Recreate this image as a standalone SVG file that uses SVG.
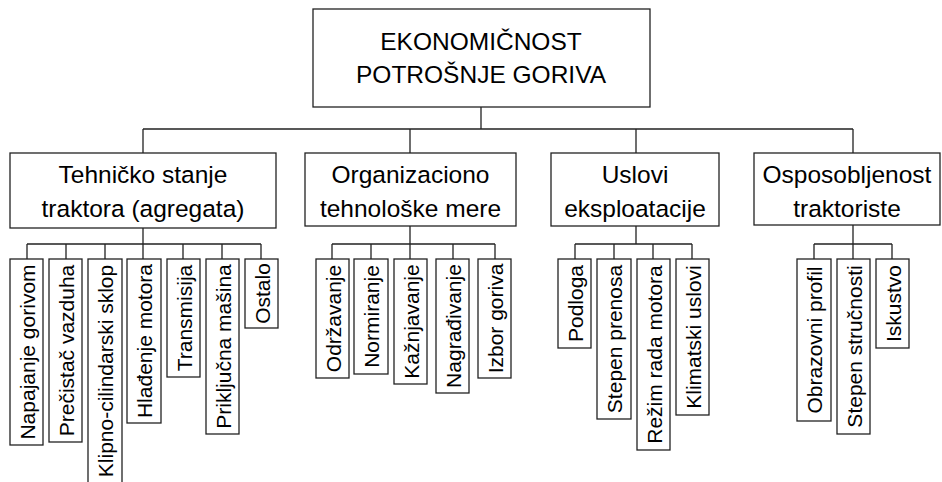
<svg xmlns="http://www.w3.org/2000/svg" width="942" height="482" viewBox="0 0 942 482">
<style>
.box{fill:#fff;stroke:#222;stroke-width:1.3}
.ln{fill:none;stroke:#222;stroke-width:1.3}
.t1{font-family:"Liberation Sans",Arial,sans-serif;font-size:24.5px;fill:#000;text-anchor:middle}
.t3{font-family:"Liberation Sans",Arial,sans-serif;font-size:21px;fill:#000;text-anchor:middle}
</style>
<rect width="942" height="482" fill="#fff"/>
<g id="connectors" class="ln">
<path d="M481 107V129M143 129H853M143 129V153M410 129V153M636 129V153M853 129V153"/>
<path d="M143 228V259M27 244H261M27 244V259M66 244V259M105 244V259M183 244V259M222 244V259M261 244V259"/>
<path d="M410 226V259M332 244H495M332 244V259M371 244V259M453 244V259M495 244V259"/>
<path d="M636 226V244M575 244H692M575 244V259M614 244V259M653 244V259M692 244V259"/>
<path d="M853 225V259M814 244H892M814 244V259M892 244V259"/>
</g>
<g id="root"><rect class="box" x="313" y="9" width="337" height="98"/><text class="t1" x="481" y="50">EKONOMIČNOST</text><text class="t1" x="481" y="83">POTROŠNJE GORIVA</text></g>
<g id="tehnicko"><rect class="box" x="10" y="153" width="266" height="75"/><text class="t1" x="143" y="183">Tehničko stanje</text><text class="t1" x="143" y="217">traktora (agregata)</text></g>
<g id="organizaciono"><rect class="box" x="305" y="153" width="211" height="73"/><text class="t1" x="410.5" y="183">Organizaciono</text><text class="t1" x="410.5" y="217">tehnološke mere</text></g>
<g id="uslovi"><rect class="box" x="551" y="153" width="168" height="73"/><text class="t1" x="635" y="183">Uslovi</text><text class="t1" x="635" y="217">eksploatacije</text></g>
<g id="osposobljenost"><rect class="box" x="754" y="153" width="186" height="72"/><text class="t1" x="847" y="183">Osposobljenost</text><text class="t1" x="847" y="217">traktoriste</text></g>
<g id="napajanje"><rect class="box" x="10" y="259" width="33" height="186"/><text class="t3" transform="translate(34.5 352) rotate(-90)">Napajanje gorivom</text></g>
<g id="precistac"><rect class="box" x="49" y="259" width="33" height="183"/><text class="t3" transform="translate(73.5 350.5) rotate(-90)">Prečistač vazduha</text></g>
<g id="klipno"><rect class="box" x="88" y="259" width="34" height="226"/><text class="t3" transform="translate(112.5 371) rotate(-90)">Klipno-cilindarski sklop</text></g>
<g id="hladjenje"><rect class="box" x="127" y="259" width="34" height="164"/><text class="t3" transform="translate(151.5 341) rotate(-90)">Hlađenje motora</text></g>
<g id="transmisija"><rect class="box" x="167" y="259" width="33" height="118"/><text class="t3" transform="translate(191.5 318) rotate(-90)">Transmisija</text></g>
<g id="prikljucna"><rect class="box" x="206" y="259" width="33" height="175"/><text class="t3" transform="translate(230.5 346.5) rotate(-90)">Priključna mašina</text></g>
<g id="ostalo"><rect class="box" x="245" y="259" width="33" height="69"/><text class="t3" transform="translate(269.5 293.5) rotate(-90)">Ostalo</text></g>
<g id="odrzavanje"><rect class="box" x="316" y="259" width="33" height="119"/><text class="t3" transform="translate(340.5 318.5) rotate(-90)">Održavanje</text></g>
<g id="normiranje"><rect class="box" x="354" y="259" width="34" height="115"/><text class="t3" transform="translate(379 316.5) rotate(-90)">Normiranje</text></g>
<g id="kaznjavanje"><rect class="box" x="394" y="259" width="33" height="125"/><text class="t3" transform="translate(418.5 321.5) rotate(-90)">Kažnjavanje</text></g>
<g id="nagradjivanje"><rect class="box" x="436" y="259" width="33" height="134"/><text class="t3" transform="translate(460.5 326) rotate(-90)">Nagrađivanje</text></g>
<g id="izbor"><rect class="box" x="478" y="259" width="33" height="119"/><text class="t3" transform="translate(502.5 318.5) rotate(-90)">Izbor goriva</text></g>
<g id="podloga"><rect class="box" x="558" y="259" width="33" height="89"/><text class="t3" transform="translate(582.5 303.5) rotate(-90)">Podloga</text></g>
<g id="stepen-prenosa"><rect class="box" x="597" y="259" width="34" height="160"/><text class="t3" transform="translate(621.5 339) rotate(-90)">Stepen prenosa</text></g>
<g id="rezim"><rect class="box" x="637" y="259" width="33" height="191"/><text class="t3" transform="translate(661.5 354.5) rotate(-90)">Režim rada motora</text></g>
<g id="klimatski"><rect class="box" x="676" y="259" width="33" height="156"/><text class="t3" transform="translate(700.5 337) rotate(-90)">Klimatski uslovi</text></g>
<g id="obrazovni"><rect class="box" x="797" y="259" width="34" height="162"/><text class="t3" transform="translate(821.5 340) rotate(-90)">Obrazovni profil</text></g>
<g id="strucnost"><rect class="box" x="837" y="259" width="33" height="175"/><text class="t3" transform="translate(861.5 346.5) rotate(-90)">Stepen stručnosti</text></g>
<g id="iskustvo"><rect class="box" x="876" y="259" width="33" height="89"/><text class="t3" transform="translate(900.5 303.5) rotate(-90)">Iskustvo</text></g>
</svg>
